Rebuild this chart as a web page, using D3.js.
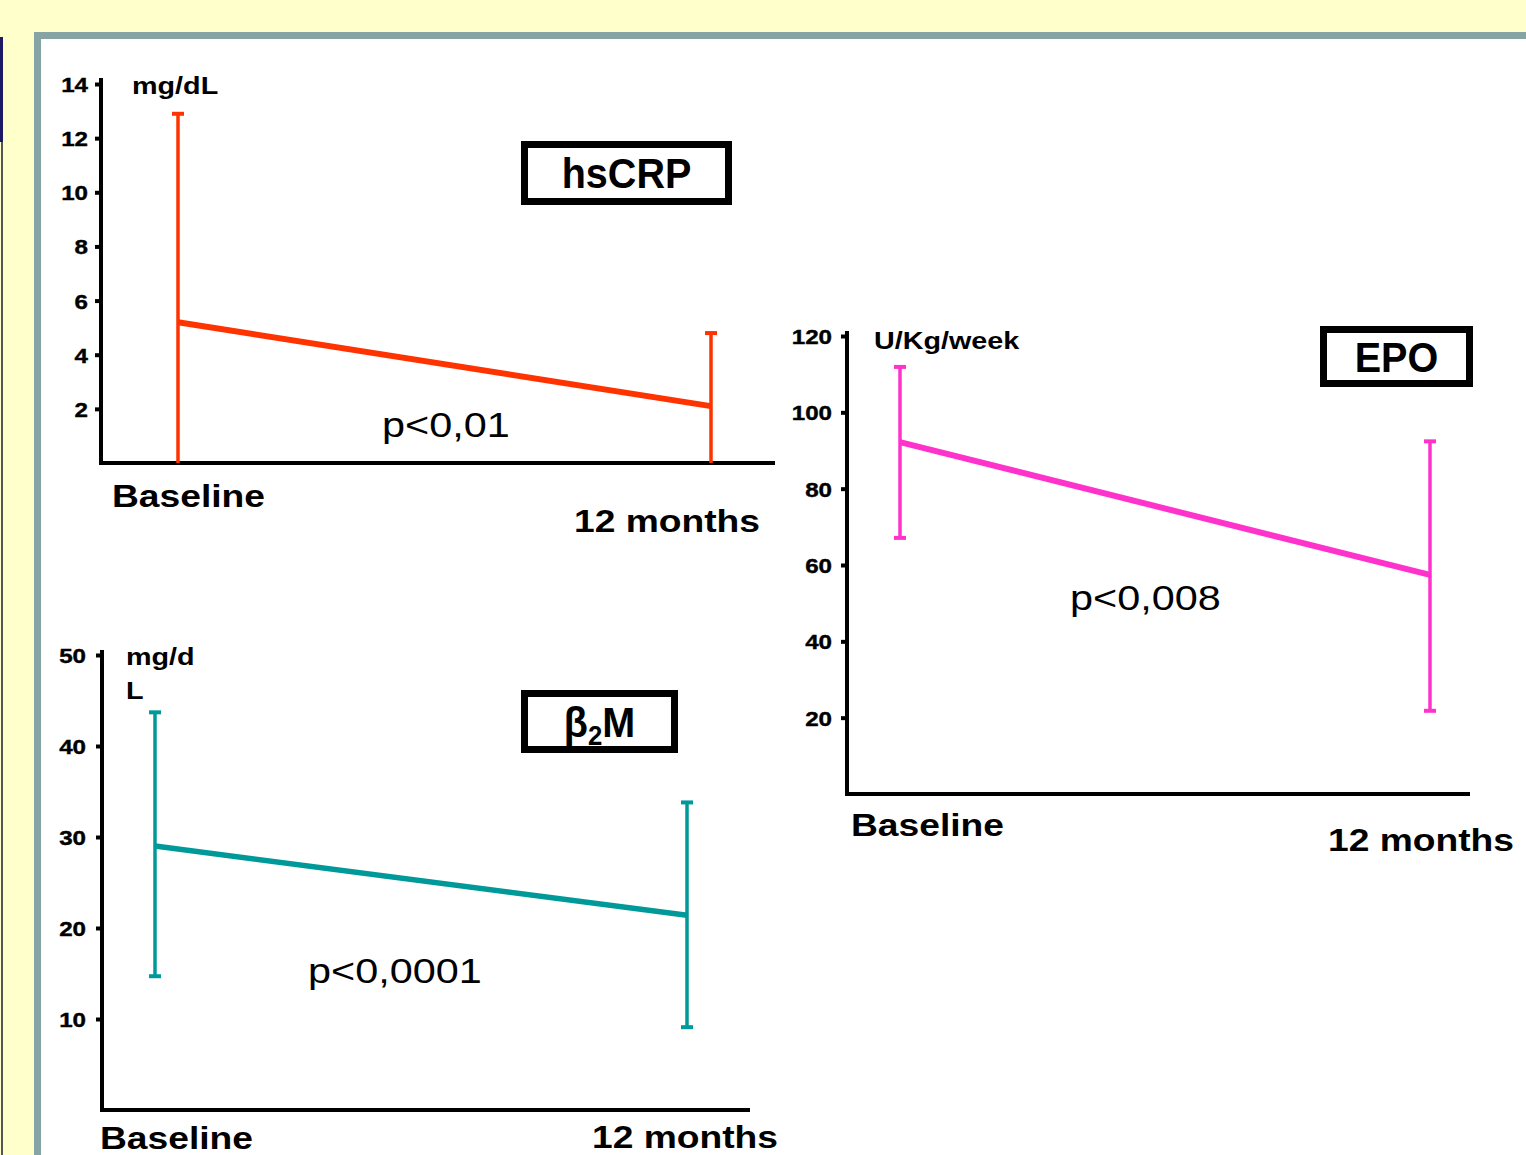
<!DOCTYPE html>
<html>
<head>
<meta charset="utf-8">
<script src="https://cdn.jsdelivr.net/npm/d3@7"></script>
<style>
  body { margin: 0; background: #ffffcc; }
  svg { display: block; font-family: "Liberation Sans", Arial, sans-serif; }
</style>
</head>
<body>
<svg id="chart" width="1526" height="1155"></svg>
<script>
  "use strict";

  var timepoints = ["Baseline", "12 months"];

  var crpMean = [5.2, 2.1];
  var crpLow = [0, 0];
  var crpHigh = [12.9, 4.8];
  var crpTicks = [2, 4, 6, 8, 10, 12, 14];

  var epoMean = [92.2, 57.4];
  var epoLow = [67.1, 21.8];
  var epoHigh = [111.9, 92.4];
  var epoTicks = [20, 40, 60, 80, 100, 120];

  var b2mMean = [29.0, 21.4];
  var b2mLow = [14.7, 9.1];
  var b2mHigh = [43.7, 33.8];
  var b2mTicks = [10, 20, 30, 40, 50];

  var svg = d3.select("#chart");

  // slide background + frame
  svg.append("rect").attr("width", 1526).attr("height", 1155).attr("fill", "#ffffcc");
  svg.append("rect").attr("x", 0).attr("y", 37).attr("width", 3).attr("height", 105).attr("fill", "#1c1a66");
  svg.append("rect").attr("x", 1).attr("y", 142).attr("width", 2).attr("height", 1013).attr("fill", "#555");
  svg.append("rect")
    .attr("x", 37.5)
    .attr("y", 35.5)
    .attr("width", 1540)
    .attr("height", 1200)
    .attr("fill", "#fff")
    .attr("stroke", "#86a4a4")
    .attr("stroke-width", 7);

  function stretched(g, str, x, y, size, weight, anchor, sx) {
    return g.append("text")
      .attr("transform", "translate(" + x + "," + y + ") scale(" + sx + ",1)")
      .attr("text-anchor", anchor)
      .style("font-size", size + "px")
      .style("font-weight", weight)
      .attr("fill", "#000")
      .text(str);
  }

  function drawPanel(p) {
    var g = svg.append("g").attr("class", "panel");
    var x = d3.scalePoint().domain(timepoints).range(p.xRange);
    var y = d3.scaleLinear().domain([0, p.yMax]).range([p.bottom, p.top]);

    //EJE Y
    var axis = g.append("g")
      .attr("transform", "translate(" + p.left + ",0)")
      .call(d3.axisLeft(y).tickValues(p.ticks).tickSize(6).tickSizeOuter(0));
    axis.select(".domain").remove();
    axis.selectAll(".tick line").attr("stroke", "#000").attr("stroke-width", 4);
    axis.selectAll(".tick text")
      .attr("x", null)
      .attr("dy", "0.36em")
      .attr("transform", "translate(" + (-p.tickGap) + ",0) scale(1.15,1)")
      .attr("fill", "#000")
      .attr("stroke", "#000")
      .attr("stroke-width", 0.4)
      .style("font-size", "21px")
      .style("font-weight", "bold");

    g.append("line")
      .attr("x1", p.left).attr("x2", p.left)
      .attr("y1", p.axisTop).attr("y2", p.bottom + 2)
      .attr("stroke", "#000").attr("stroke-width", 4);
    g.append("line")
      .attr("x1", p.left - 2).attr("x2", p.right)
      .attr("y1", p.bottom).attr("y2", p.bottom)
      .attr("stroke", "#000").attr("stroke-width", 4);

    //BARRAS DE ERROR
    var rows = timepoints.map(function (t, i) {
      return { t: t, mean: p.mean[i], low: p.low[i], high: p.high[i] };
    });

    var bars = g.selectAll(".err").data(rows).enter().append("g").attr("class", "err");
    bars.append("line")
      .attr("x1", (d) => x(d.t)).attr("x2", (d) => x(d.t))
      .attr("y1", (d) => y(d.high)).attr("y2", (d) => y(d.low))
      .attr("stroke", p.color).attr("stroke-width", 3.5);

    var caps = [];
    rows.forEach(function (d) {
      caps.push({ t: d.t, v: d.high });
      if (d.low > 0) caps.push({ t: d.t, v: d.low });
    });
    g.selectAll(".cap").data(caps).enter().append("line")
      .attr("class", "cap")
      .attr("x1", (d) => x(d.t) - 6).attr("x2", (d) => x(d.t) + 6)
      .attr("y1", (d) => y(d.v)).attr("y2", (d) => y(d.v))
      .attr("stroke", p.color).attr("stroke-width", 4);

    //LINEA DE MEDIAS
    var line = d3.line().x((d) => x(d.t)).y((d) => y(d.mean));
    g.append("path")
      .datum(rows)
      .attr("d", line)
      .attr("fill", "none")
      .attr("stroke", p.color)
      .attr("stroke-width", p.lineWidth);

    //TEXTOS
    p.unit.forEach(function (u, i) {
      stretched(g, u, p.unitX, p.unitY + i * 34, 23, "bold", "start", 1.25);
    });
    stretched(g, timepoints[0], p.baseX, p.baseY, 31, "bold", "start", 1.2);
    stretched(g, timepoints[1], p.monthX, p.monthY, 31, "bold", "end", 1.2);
    stretched(g, p.pText, p.pX, p.pY, 36, "normal", "start", 1.15);

    //CAJA DEL TITULO
    var b = p.box;
    g.append("rect")
      .attr("x", b[0] + 3.5).attr("y", b[1] + 3.5)
      .attr("width", b[2] - 7).attr("height", b[3] - 7)
      .attr("fill", "#fff").attr("stroke", "#000").attr("stroke-width", 7);
    var title = g.append("text")
      .attr("transform", "translate(" + (b[0] + b[2] / 2) + "," + (b[1] + b[3] / 2 + 15) + ") scale(0.92,1)")
      .attr("text-anchor", "middle")
      .style("font-size", "43px")
      .style("font-weight", "bold")
      .attr("fill", "#000");
    p.title.forEach(function (part) {
      var ts = title.append("tspan").text(part.s);
      if (part.sub) ts.style("font-size", "28px").attr("dy", 8);
      if (part.after) ts.attr("dy", -8);
    });
  }

  drawPanel({
    mean: crpMean, low: crpLow, high: crpHigh, ticks: crpTicks, yMax: 14,
    color: "#ff3300", lineWidth: 6,
    left: 101, right: 775, top: 84, bottom: 463, axisTop: 78,
    xRange: [178, 711], tickGap: 13,
    unit: ["mg/dL"], unitX: 132, unitY: 94,
    baseX: 112, baseY: 507, monthX: 760, monthY: 532,
    pText: "p<0,01", pX: 382, pY: 437,
    box: [521, 141, 211, 64], title: [{ s: "hsCRP" }]
  });

  drawPanel({
    mean: epoMean, low: epoLow, high: epoHigh, ticks: epoTicks, yMax: 120,
    color: "#ff33cc", lineWidth: 6,
    left: 847, right: 1470, top: 336, bottom: 794, axisTop: 331,
    xRange: [900, 1430], tickGap: 15,
    unit: ["U/Kg/week"], unitX: 874, unitY: 349,
    baseX: 851, baseY: 836, monthX: 1514, monthY: 851,
    pText: "p<0,008", pX: 1070, pY: 610,
    box: [1320, 326, 153, 61], title: [{ s: "EPO" }]
  });

  drawPanel({
    mean: b2mMean, low: b2mLow, high: b2mHigh, ticks: b2mTicks, yMax: 50,
    color: "#009999", lineWidth: 5.5,
    left: 102, right: 750, top: 655, bottom: 1110, axisTop: 650,
    xRange: [155, 687], tickGap: 16,
    unit: ["mg/d", "L"], unitX: 126, unitY: 665,
    baseX: 100, baseY: 1149, monthX: 778, monthY: 1148,
    pText: "p<0,0001", pX: 308, pY: 983,
    box: [521, 690, 157, 63], title: [{ s: "β" }, { s: "2", sub: true }, { s: "M", after: true }]
  });
</script>
</body>
</html>
